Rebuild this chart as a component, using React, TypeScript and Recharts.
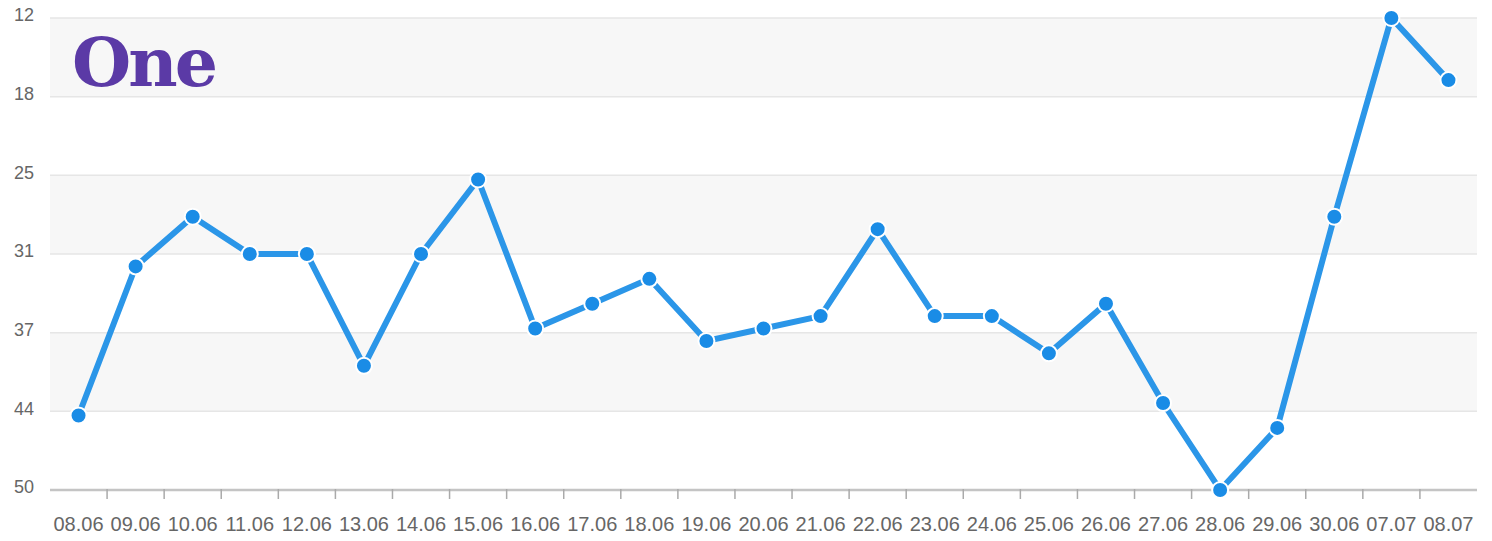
import React from "react";
import { CartesianGrid, Line, LineChart, XAxis, YAxis } from "recharts";

const dates = [
  "08.06", "09.06", "10.06", "11.06", "12.06", "13.06", "14.06", "15.06",
  "16.06", "17.06", "18.06", "19.06", "20.06", "21.06", "22.06", "23.06",
  "24.06", "25.06", "26.06", "27.06", "28.06", "29.06", "30.06", "07.07", "08.07",
];

const positions = [
  44, 32, 28, 31, 31, 40, 31, 25, 37, 35, 33, 38, 37, 36, 29, 36, 36, 39, 35,
  43, 50, 45, 28, 12, 17,
];

const yMin = 12;
const yMax = 50;
const yTickLabels = ["12", "18", "25", "31", "37", "44", "50"];

// gridlines are evenly spaced, labels are rounded
const yTicks = yTickLabels.map((_, i) => yMin + ((yMax - yMin) * i) / (yTickLabels.length - 1));

const chartData = dates.map((date, i) => ({ date, position: positions[i] }));

const WIDTH = 1492;
const HEIGHT = 541;
const MARGIN = { top: 18, right: 15, bottom: 0, left: 0 };
const Y_AXIS_WIDTH = 50;
const BAND = (WIDTH - MARGIN.right - Y_AXIS_WIDTH) / dates.length;

const XTick = (props: any) => {
  const { x, y, payload, index } = props;
  const last = index === dates.length - 1;
  return (
    <g>
      {!last && (
        <line
          x1={x + BAND / 2}
          x2={x + BAND / 2}
          y1={y - 9}
          y2={y + 1}
          stroke="#aaaaaa"
          strokeWidth={1.5}
        />
      )}
      <text
        x={x}
        y={y + 33}
        textAnchor="middle"
        fill="#666"
        fontSize={20}
        fontFamily="'Liberation Sans', Arial, sans-serif"
      >
        {payload.value}
      </text>
    </g>
  );
};

const App: React.FC = () => {
  return (
    <div
      style={{
        position: "absolute",
        left: 0,
        top: 0,
        width: WIDTH,
        height: HEIGHT,
        background: "#fff",
      }}
    >
      <LineChart width={WIDTH} height={HEIGHT} data={chartData} margin={MARGIN}>
        <CartesianGrid
          vertical={false}
          stroke="#e6e6e6"
          strokeWidth={1.5}
          horizontalFill={["#f7f7f7", "#ffffff"]}
          fillOpacity={1}
        />
        <XAxis
          dataKey="date"
          height={51}
          padding={{ left: BAND / 2, right: BAND / 2 }}
          axisLine={{ stroke: "#c4c4c4", strokeWidth: 2.5 }}
          tickLine={false}
          interval={0}
          tick={<XTick />}
        />
        <YAxis
          width={Y_AXIS_WIDTH}
          reversed
          domain={[yMin, yMax]}
          ticks={yTicks}
          interval={0}
          axisLine={false}
          tickLine={false}
          tickSize={0}
          tickMargin={16}
          dy={-3}
          tickFormatter={(v: number) => String(Math.round(v))}
          tick={{ fill: "#666", fontSize: 18, fontFamily: "'Liberation Sans', Arial, sans-serif" }}
        />
        <Line
          type="linear"
          dataKey="position"
          stroke="#2b96e8"
          strokeWidth={6}
          dot={{ r: 8, fill: "#1a8ce6", stroke: "#ffffff", strokeWidth: 2 }}
          activeDot={false}
          isAnimationActive={false}
        />
      </LineChart>
      <div
        style={{
          position: "absolute",
          left: 72,
          top: 28,
          color: "#5b3aa6",
          fontFamily: "'DejaVu Serif', serif",
          fontWeight: 700,
          fontSize: 68,
          letterSpacing: -3,
          lineHeight: 1,
        }}
      >
        One
      </div>
    </div>
  );
};

export default App;
